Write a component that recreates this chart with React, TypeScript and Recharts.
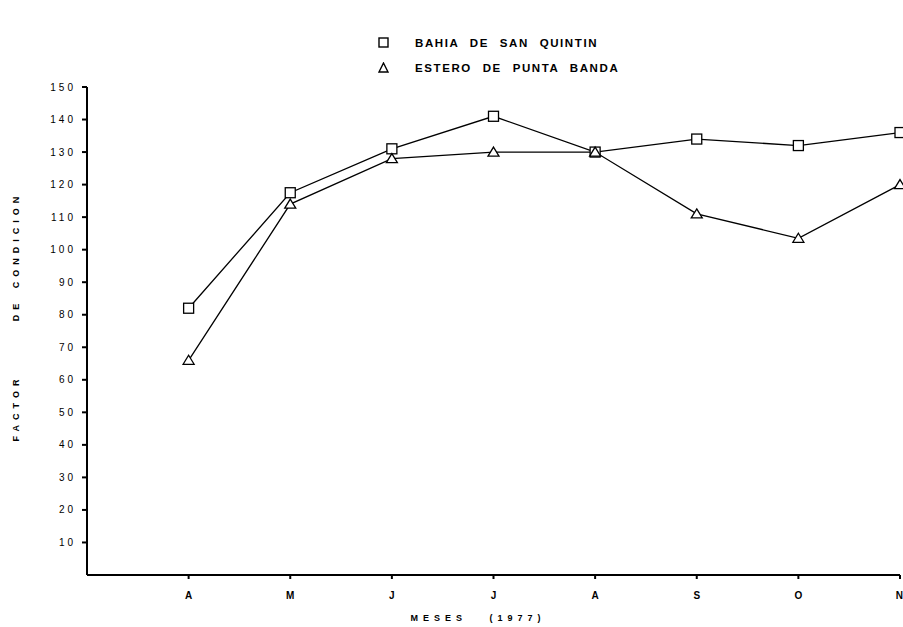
import React from 'react';
import { LineChart, Line, XAxis, YAxis } from 'recharts';

const months = ['A', 'M', 'J', 'J', 'A', 'S', 'O', 'N'];
const monthPos = [1, 2, 3, 4, 5, 6, 7, 8];
const bahiaSanQuintin = [82, 117.5, 131, 141, 130, 134, 132, 136];
const esteroPuntaBanda = [66, 114, 128, 130, 130, 111, 103.5, 120];
const yTicks = [10, 20, 30, 40, 50, 60, 70, 80, 90, 100, 110, 120, 130, 140, 150];

const data = monthPos.map((x, i) => ({
  x,
  bahia: bahiaSanQuintin[i],
  estero: esteroPuntaBanda[i],
}));

const font = '"Liberation Sans", Arial, sans-serif';

const SquareDot = (props: any) => {
  const { cx, cy, index } = props;
  return (
    <rect key={`sq-${index}`} x={cx - 5} y={cy - 5} width={10} height={10}
      fill="#fff" stroke="#000" strokeWidth={1.3} />
  );
};

const TriangleDot = (props: any) => {
  const { cx, cy, index } = props;
  return (
    <path key={`tr-${index}`} d={`M${cx},${cy - 5} L${cx + 5.5},${cy + 4} L${cx - 5.5},${cy + 4} Z`}
      fill="#fff" stroke="#000" strokeWidth={1.3} />
  );
};

const axisTitle = { fontFamily: font, fontSize: 9, fontWeight: 700, letterSpacing: 5, fill: '#000' };

function LegendBox() {
  const row = { display: 'flex', alignItems: 'center', height: 25 };
  const text: React.CSSProperties = {
    fontFamily: font, fontSize: 11.5, fontWeight: 700, letterSpacing: 1.6,
    wordSpacing: 6, marginLeft: 26, color: '#000',
  };
  return (
    <div style={{ position: 'absolute', left: 378, top: 30 }}>
      <div style={row}>
        <svg width={11} height={11}><rect x={1} y={1} width={9} height={9} fill="#fff" stroke="#000" strokeWidth={1.4} /></svg>
        <span style={text}>BAHIA DE SAN QUINTIN</span>
      </div>
      <div style={row}>
        <svg width={11} height={11}><path d="M5.5,1 L10,10 L1,10 Z" fill="#fff" stroke="#000" strokeWidth={1.4} /></svg>
        <span style={text}>ESTERO DE PUNTA BANDA</span>
      </div>
    </div>
  );
}

export default function App() {
  return (
    <div style={{ position: 'absolute', left: 0, top: 0, width: 903, height: 627, background: '#fff' }}>
      <LineChart width={903} height={627} data={data} margin={{ top: 87, right: 3, left: 0, bottom: 1 }}>
        <XAxis
          type="number"
          dataKey="x"
          domain={[0, 8]}
          ticks={monthPos}
          tickFormatter={(v: number) => months[v - 1]}
          stroke="#000"
          strokeWidth={2}
          tickSize={4}
          tickMargin={13}
          height={51}
          tick={{ fill: '#000', fontFamily: font, fontSize: 10, fontWeight: 700 }}
          label={{
            content: () => (
              <text x={478} y={621} textAnchor="middle" style={{ ...axisTitle, whiteSpace: 'pre' }}>
                {'MESES   (1977)'}
              </text>
            ),
          }}
        />
        <YAxis
          type="number"
          domain={[0, 150]}
          ticks={yTicks}
          width={87}
          stroke="#000"
          strokeWidth={2}
          tickSize={5}
          tickMargin={6}
          interval={0}
          tick={{ fill: '#000', fontFamily: font, fontSize: 10, letterSpacing: 3 }}
          label={{
            content: () => (
              <g>
                <text x={19} y={408} transform="rotate(-90 19 408)" textAnchor="middle" style={axisTitle}>FACTOR</text>
                <text x={19} y={310} transform="rotate(-90 19 310)" textAnchor="middle" style={axisTitle}>DE</text>
                <text x={19} y={240} transform="rotate(-90 19 240)" textAnchor="middle" style={axisTitle}>CONDICION</text>
              </g>
            ),
          }}
        />
        <Line dataKey="bahia" stroke="#000" strokeWidth={1.3} dot={SquareDot} isAnimationActive={false} type="linear" />
        <Line dataKey="estero" stroke="#000" strokeWidth={1.3} dot={TriangleDot} isAnimationActive={false} type="linear" />
      </LineChart>
      <LegendBox />
    </div>
  );
}
